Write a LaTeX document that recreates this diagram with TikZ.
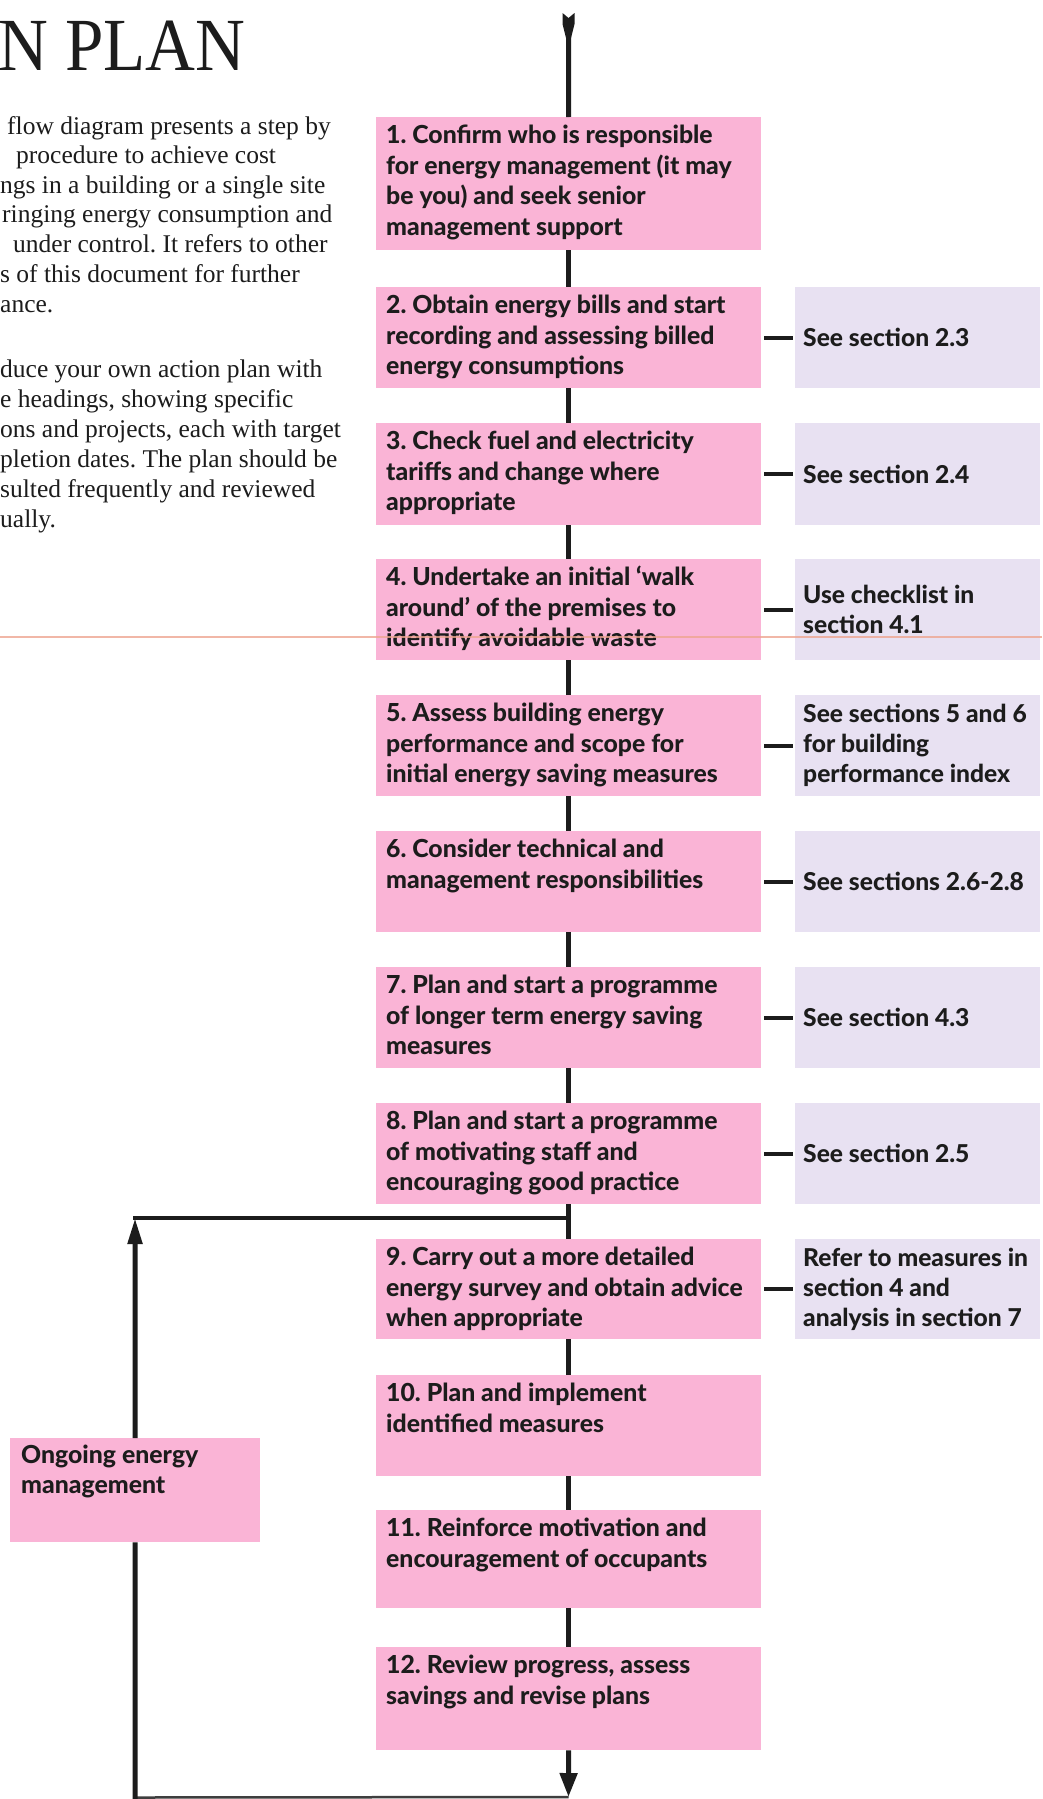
\documentclass[tikz,border=0pt]{standalone}
\usepackage{fontspec}
\setmainfont{Liberation Serif}
\newfontfamily\gillfont{Lato Heavy}
\usetikzlibrary{arrows.meta}
\definecolor{pinkc}{RGB}{250,180,214}
\definecolor{lavc}{RGB}{232,225,242}
\definecolor{ink}{RGB}{28,28,28}
\definecolor{foldc}{RGB}{238,165,145}
\newcommand{\toppar}[3]{\parbox[t]{#1}{\raggedright\rule{0pt}{#2}#3}}
\frenchspacing
\begin{document}
\begin{tikzpicture}[x=1pt,y=-1pt,
  pinkbox/.style={fill=pinkc, draw=none, inner sep=0pt, minimum width=385pt, anchor=north west},
  lavbox/.style={fill=lavc, draw=none, inner sep=0pt, minimum width=245pt, minimum height=101pt, anchor=north west},
  boxtext/.style={inner sep=0pt, anchor=north west, text=ink, font=\gillfont\fontsize{24.8}{30.5}\selectfont},
  lavtext/.style={inner sep=0pt, anchor=west, align=left, text=ink, font=\gillfont\fontsize{24.6}{30}\selectfont},
  conn/.style={draw=ink, line width=5pt},
  sideconn/.style={draw=ink, line width=4pt, shorten <=3pt, shorten >=2pt},
  bodytext/.style={inner sep=0pt, anchor=base west, text=ink, font=\fontsize{25.5}{29.8}\selectfont},
]
\fill[white] (0,0) rectangle (1042,1799);
\useasboundingbox (0,0) rectangle (1042,1799);

% title and body text
\node[inner sep=0pt, anchor=base west, text=ink, font=\fontsize{75}{75}\selectfont] (title) at (-2,70) {\scalebox{0.92}[1]{N PLAN}};
\node[bodytext] (p1) at (7,134) {flow diagram presents a step by};
\node[bodytext] (p2) at (16,163.5) {procedure to achieve cost};
\node[bodytext] (p3) at (0,193) {ngs in a building or a single site};
\node[bodytext] (p4) at (2,222.8) {ringing energy consumption and};
\node[bodytext] (p5) at (13,252.5) {under control. It refers to other};
\node[bodytext] (p6) at (0,282.5) {s of this document for further};
\node[bodytext] (p7) at (0,312.5) {ance.};
\node[bodytext] (p8) at (0,377.5) {duce your own action plan with};
\node[bodytext] (p9) at (0,407.5) {e headings, showing specific};
\node[bodytext] (p10) at (0,437.5) {ons and projects, each with target};
\node[bodytext] (p11) at (0,467.5) {pletion dates. The plan should be};
\node[bodytext] (p12) at (0,497.5) {sulted frequently and reviewed};
\node[bodytext] (p13) at (0,527.5) {ually.};

% step boxes
\node[pinkbox, minimum height=133pt] (b1) at (376,117) {};
\node[pinkbox, minimum height=101pt] (b2) at (376,287) {};
\node[pinkbox, minimum height=102pt] (b3) at (376,423) {};
\node[pinkbox, minimum height=101pt] (b4) at (376,559) {};
\node[pinkbox, minimum height=101pt] (b5) at (376,695) {};
\node[pinkbox, minimum height=101pt] (b6) at (376,831) {};
\node[pinkbox, minimum height=101pt] (b7) at (376,967) {};
\node[pinkbox, minimum height=101pt] (b8) at (376,1103) {};
\node[pinkbox, minimum height=100pt] (b9) at (376,1239) {};
\node[pinkbox, minimum height=101pt] (b10) at (376,1375) {};
\node[pinkbox, minimum height=98pt] (b11) at (376,1510) {};
\node[pinkbox, minimum height=103pt] (b12) at (376,1647) {};

\node[boxtext] (t1) at ([xshift=10pt]b1.north west) {\toppar{378pt}{26.5pt}{1. Confirm who is responsible\\for energy management (it may\\be you) and seek senior\\management support}};
\node[boxtext] (t2) at ([xshift=10pt]b2.north west) {\toppar{378pt}{26.5pt}{2. Obtain energy bills and start\\recording and assessing billed\\energy consumptions}};
\node[boxtext] (t3) at ([xshift=10pt]b3.north west) {\toppar{378pt}{26.5pt}{3. Check fuel and electricity\\tariffs and change where\\appropriate}};
\node[boxtext] (t4) at ([xshift=10pt]b4.north west) {\toppar{378pt}{26.5pt}{4. Undertake an initial ‘walk\\around’ of the premises to\\identify avoidable waste}};
\node[boxtext] (t5) at ([xshift=10pt]b5.north west) {\toppar{378pt}{26.5pt}{5. Assess building energy\\performance and scope for\\initial energy saving measures}};
\node[boxtext] (t6) at ([xshift=10pt]b6.north west) {\toppar{378pt}{26.5pt}{6. Consider technical and\\management responsibilities}};
\node[boxtext] (t7) at ([xshift=10pt]b7.north west) {\toppar{378pt}{26.5pt}{7. Plan and start a programme\\of longer term energy saving\\measures}};
\node[boxtext] (t8) at ([xshift=10pt]b8.north west) {\toppar{378pt}{26.5pt}{8. Plan and start a programme\\of motivating staff and\\encouraging good practice}};
\node[boxtext] (t9) at ([xshift=10pt]b9.north west) {\toppar{378pt}{26.5pt}{9. Carry out a more detailed\\energy survey and obtain advice\\when appropriate}};
\node[boxtext] (t10) at ([xshift=10pt]b10.north west) {\toppar{378pt}{26.5pt}{10. Plan and implement\\identified measures}};
\node[boxtext] (t11) at ([xshift=10pt]b11.north west) {\toppar{378pt}{26.5pt}{11. Reinforce motivation and\\encouragement of occupants}};
\node[boxtext] (t12) at ([xshift=10pt]b12.north west) {\toppar{378pt}{26.5pt}{12. Review progress, assess\\savings and revise plans}};

% reference boxes
\node[lavbox] (l2) at (795,287) {};
\node[lavbox, minimum height=102pt] (l3) at (795,423) {};
\node[lavbox] (l4) at (795,559) {};
\node[lavbox] (l5) at (795,695) {};
\node[lavbox] (l6) at (795,831) {};
\node[lavbox] (l7) at (795,967) {};
\node[lavbox] (l8) at (795,1103) {};
\node[lavbox, minimum height=100pt] (l9) at (795,1239) {};

\node[lavtext] (r2) at ([xshift=8pt]l2.west) {See section 2.3};
\node[lavtext] (r3) at ([xshift=8pt]l3.west) {See section 2.4};
\node[lavtext] (r4) at ([xshift=8pt]l4.west) {Use checklist in\\section 4.1};
\node[lavtext] (r5) at ([xshift=8pt]l5.west) {See sections 5 and 6\\for building\\performance index};
\node[lavtext] (r6) at ([xshift=8pt]l6.west) {See sections 2.6-2.8};
\node[lavtext] (r7) at ([xshift=8pt]l7.west) {See section 4.3};
\node[lavtext] (r8) at ([xshift=8pt]l8.west) {See section 2.5};
\node[lavtext] (r9) at ([xshift=8pt]l9.west) {Refer to measures in\\section 4 and\\analysis in section 7};

\foreach \i in {2,...,9} {\draw[sideconn] (b\i.east) -- (l\i.west);}

% ongoing box
\node[pinkbox, minimum width=250pt, minimum height=104pt] (ong) at (10,1438) {};
\node[boxtext] (ongt) at ([xshift=11pt]ong.north west) {\toppar{235pt}{25pt}{Ongoing energy\\management}};

% main flow
\fill[ink] (562.5,13) -- (568.5,18) -- (574.5,13) -- (574.5,24) -- (571,38) -- (566,38) -- (562.5,24) -- cycle;
\coordinate (tailend) at (568.5,36);
\draw[conn] (tailend) -- (b1.north);
\foreach \a/\b in {1/2,2/3,3/4,4/5,5/6,6/7,7/8,8/9,9/10,10/11,11/12} {\draw[conn] (b\a.south) -- (b\b.north);}

\coordinate (bot) at (568.5,1797);
\coordinate (botleft) at (135,1797.5);
\coordinate (corner) at (135,1218);
\coordinate (junc) at (568.5,1218);
\draw[conn, -{Triangle[width=17pt,length=24pt]}] (b12.south) -- (bot);
\draw[draw=ink!85, line width=2.5pt] (bot) -- (botleft);
\draw[conn] (ong.south) -- (135,1799);
\draw[conn, -{Triangle[width=14pt,length=26pt]}] (ong.north) -- (corner);
\draw[draw=ink, line width=4.5pt] ([xshift=-2pt]corner) -- (junc);

% fold line
\draw[foldc, line width=1.3pt, opacity=0.8] (0,637) -- (1042,637);
\end{tikzpicture}
\end{document}
